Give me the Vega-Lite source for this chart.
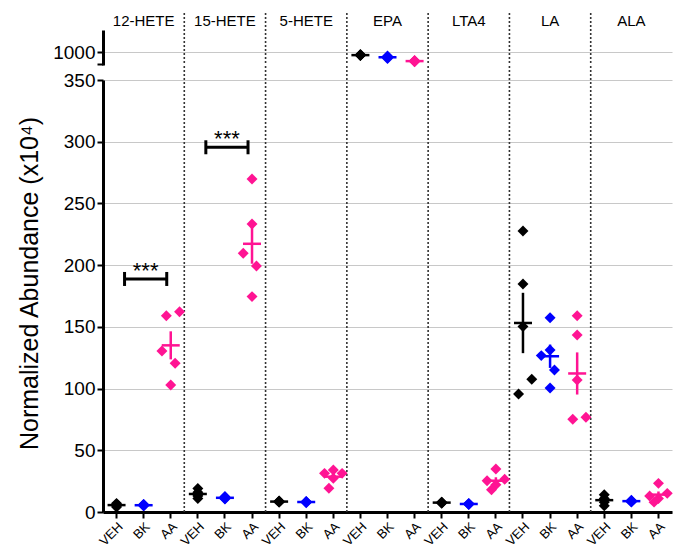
{
  "$schema": "https://vega.github.io/schema/vega-lite/v6.json",
  "padding": {"left": 17, "top": 12, "right": 0, "bottom": 0},
  "spacing": 15,
  "bounds": "flush",
  "config": {
    "font": "Liberation Sans",
    "view": {"stroke": null},
    "axis": {"domainColor": "#000", "domainWidth": 3, "tickColor": "#000", "tickWidth": 2, "tickSize": 6, "labelColor": "#000", "labelFont": "Liberation Sans", "titleFont": "Liberation Sans", "titleColor": "#000", "gridColor": "#c8c8c8", "gridWidth": 1.2},
    "axisBottom": {"labelAngle": -45, "labelFontSize": 13, "labelPadding": 2, "labelOverlap": false}
  },
  "datasets": {
    "pts": [
      {"lipid": "12-HETE", "grp": "VEH", "key": "12-HETE|VEH", "v": 7, "lane": 0},
      {"lipid": "12-HETE", "grp": "VEH", "key": "12-HETE|VEH", "v": 6, "lane": 0},
      {"lipid": "12-HETE", "grp": "VEH", "key": "12-HETE|VEH", "v": 5, "lane": 0},
      {"lipid": "12-HETE", "grp": "VEH", "key": "12-HETE|VEH", "v": 4, "lane": 0},
      {"lipid": "12-HETE", "grp": "VEH", "key": "12-HETE|VEH", "v": 6, "lane": 0},
      {"lipid": "12-HETE", "grp": "BK", "key": "12-HETE|BK", "v": 6, "lane": 0},
      {"lipid": "12-HETE", "grp": "BK", "key": "12-HETE|BK", "v": 5, "lane": 0},
      {"lipid": "12-HETE", "grp": "BK", "key": "12-HETE|BK", "v": 5.5, "lane": 0},
      {"lipid": "12-HETE", "grp": "BK", "key": "12-HETE|BK", "v": 6, "lane": 0},
      {"lipid": "12-HETE", "grp": "BK", "key": "12-HETE|BK", "v": 5, "lane": 0},
      {"lipid": "12-HETE", "grp": "AA", "key": "12-HETE|AA", "v": 159, "lane": -1},
      {"lipid": "12-HETE", "grp": "AA", "key": "12-HETE|AA", "v": 162.3, "lane": 2},
      {"lipid": "12-HETE", "grp": "AA", "key": "12-HETE|AA", "v": 130.4, "lane": -2},
      {"lipid": "12-HETE", "grp": "AA", "key": "12-HETE|AA", "v": 120.5, "lane": 1},
      {"lipid": "12-HETE", "grp": "AA", "key": "12-HETE|AA", "v": 102.9, "lane": 0},
      {"lipid": "15-HETE", "grp": "VEH", "key": "15-HETE|VEH", "v": 19, "lane": 0},
      {"lipid": "15-HETE", "grp": "VEH", "key": "15-HETE|VEH", "v": 16, "lane": 0},
      {"lipid": "15-HETE", "grp": "VEH", "key": "15-HETE|VEH", "v": 14, "lane": 0},
      {"lipid": "15-HETE", "grp": "VEH", "key": "15-HETE|VEH", "v": 11, "lane": 0},
      {"lipid": "15-HETE", "grp": "VEH", "key": "15-HETE|VEH", "v": 13, "lane": 0},
      {"lipid": "15-HETE", "grp": "BK", "key": "15-HETE|BK", "v": 12, "lane": 0},
      {"lipid": "15-HETE", "grp": "BK", "key": "15-HETE|BK", "v": 11, "lane": 0},
      {"lipid": "15-HETE", "grp": "BK", "key": "15-HETE|BK", "v": 12.5, "lane": 0},
      {"lipid": "15-HETE", "grp": "BK", "key": "15-HETE|BK", "v": 10.5, "lane": 0},
      {"lipid": "15-HETE", "grp": "BK", "key": "15-HETE|BK", "v": 11.5, "lane": 0},
      {"lipid": "15-HETE", "grp": "AA", "key": "15-HETE|AA", "v": 269.8, "lane": 0},
      {"lipid": "15-HETE", "grp": "AA", "key": "15-HETE|AA", "v": 233.3, "lane": 0},
      {"lipid": "15-HETE", "grp": "AA", "key": "15-HETE|AA", "v": 209.6, "lane": -2},
      {"lipid": "15-HETE", "grp": "AA", "key": "15-HETE|AA", "v": 199.3, "lane": 1},
      {"lipid": "15-HETE", "grp": "AA", "key": "15-HETE|AA", "v": 174.5, "lane": 0},
      {"lipid": "5-HETE", "grp": "VEH", "key": "5-HETE|VEH", "v": 9, "lane": 0},
      {"lipid": "5-HETE", "grp": "VEH", "key": "5-HETE|VEH", "v": 8.5, "lane": 0},
      {"lipid": "5-HETE", "grp": "VEH", "key": "5-HETE|VEH", "v": 8, "lane": 0},
      {"lipid": "5-HETE", "grp": "VEH", "key": "5-HETE|VEH", "v": 8.7, "lane": 0},
      {"lipid": "5-HETE", "grp": "VEH", "key": "5-HETE|VEH", "v": 8, "lane": 0},
      {"lipid": "5-HETE", "grp": "BK", "key": "5-HETE|BK", "v": 8.5, "lane": 0},
      {"lipid": "5-HETE", "grp": "BK", "key": "5-HETE|BK", "v": 8, "lane": 0},
      {"lipid": "5-HETE", "grp": "BK", "key": "5-HETE|BK", "v": 7.5, "lane": 0},
      {"lipid": "5-HETE", "grp": "BK", "key": "5-HETE|BK", "v": 8.2, "lane": 0},
      {"lipid": "5-HETE", "grp": "BK", "key": "5-HETE|BK", "v": 8.3, "lane": 0},
      {"lipid": "5-HETE", "grp": "AA", "key": "5-HETE|AA", "v": 31.3, "lane": -2},
      {"lipid": "5-HETE", "grp": "AA", "key": "5-HETE|AA", "v": 34, "lane": 0},
      {"lipid": "5-HETE", "grp": "AA", "key": "5-HETE|AA", "v": 31.3, "lane": 2},
      {"lipid": "5-HETE", "grp": "AA", "key": "5-HETE|AA", "v": 27.3, "lane": 0},
      {"lipid": "5-HETE", "grp": "AA", "key": "5-HETE|AA", "v": 19.2, "lane": -1},
      {"lipid": "EPA", "grp": "VEH", "key": "EPA|VEH", "v": 992, "lane": 0},
      {"lipid": "EPA", "grp": "VEH", "key": "EPA|VEH", "v": 990, "lane": 0},
      {"lipid": "EPA", "grp": "VEH", "key": "EPA|VEH", "v": 989, "lane": 0},
      {"lipid": "EPA", "grp": "VEH", "key": "EPA|VEH", "v": 991, "lane": 0},
      {"lipid": "EPA", "grp": "VEH", "key": "EPA|VEH", "v": 990, "lane": 0},
      {"lipid": "EPA", "grp": "BK", "key": "EPA|BK", "v": 988, "lane": 0},
      {"lipid": "EPA", "grp": "BK", "key": "EPA|BK", "v": 982, "lane": 0},
      {"lipid": "EPA", "grp": "BK", "key": "EPA|BK", "v": 984, "lane": 0},
      {"lipid": "EPA", "grp": "BK", "key": "EPA|BK", "v": 980, "lane": 0},
      {"lipid": "EPA", "grp": "BK", "key": "EPA|BK", "v": 985, "lane": 0},
      {"lipid": "EPA", "grp": "AA", "key": "EPA|AA", "v": 973, "lane": 0},
      {"lipid": "EPA", "grp": "AA", "key": "EPA|AA", "v": 971, "lane": 0},
      {"lipid": "EPA", "grp": "AA", "key": "EPA|AA", "v": 972, "lane": 0},
      {"lipid": "EPA", "grp": "AA", "key": "EPA|AA", "v": 974, "lane": 0},
      {"lipid": "EPA", "grp": "AA", "key": "EPA|AA", "v": 970, "lane": 0},
      {"lipid": "LTA4", "grp": "VEH", "key": "LTA4|VEH", "v": 8, "lane": 0},
      {"lipid": "LTA4", "grp": "VEH", "key": "LTA4|VEH", "v": 7.5, "lane": 0},
      {"lipid": "LTA4", "grp": "VEH", "key": "LTA4|VEH", "v": 7, "lane": 0},
      {"lipid": "LTA4", "grp": "VEH", "key": "LTA4|VEH", "v": 7.5, "lane": 0},
      {"lipid": "LTA4", "grp": "VEH", "key": "LTA4|VEH", "v": 8, "lane": 0},
      {"lipid": "LTA4", "grp": "BK", "key": "LTA4|BK", "v": 6.5, "lane": 0},
      {"lipid": "LTA4", "grp": "BK", "key": "LTA4|BK", "v": 6, "lane": 0},
      {"lipid": "LTA4", "grp": "BK", "key": "LTA4|BK", "v": 7, "lane": 0},
      {"lipid": "LTA4", "grp": "BK", "key": "LTA4|BK", "v": 6.5, "lane": 0},
      {"lipid": "LTA4", "grp": "BK", "key": "LTA4|BK", "v": 6.5, "lane": 0},
      {"lipid": "LTA4", "grp": "AA", "key": "LTA4|AA", "v": 34.8, "lane": 0},
      {"lipid": "LTA4", "grp": "AA", "key": "LTA4|AA", "v": 25.4, "lane": -2},
      {"lipid": "LTA4", "grp": "AA", "key": "LTA4|AA", "v": 26.5, "lane": 2},
      {"lipid": "LTA4", "grp": "AA", "key": "LTA4|AA", "v": 22, "lane": 0},
      {"lipid": "LTA4", "grp": "AA", "key": "LTA4|AA", "v": 18, "lane": -1},
      {"lipid": "LA", "grp": "VEH", "key": "LA|VEH", "v": 227.7, "lane": 0},
      {"lipid": "LA", "grp": "VEH", "key": "LA|VEH", "v": 184.7, "lane": 0},
      {"lipid": "LA", "grp": "VEH", "key": "LA|VEH", "v": 150.2, "lane": 0},
      {"lipid": "LA", "grp": "VEH", "key": "LA|VEH", "v": 107.5, "lane": 2},
      {"lipid": "LA", "grp": "VEH", "key": "LA|VEH", "v": 95.6, "lane": -1},
      {"lipid": "LA", "grp": "BK", "key": "LA|BK", "v": 157.4, "lane": 0},
      {"lipid": "LA", "grp": "BK", "key": "LA|BK", "v": 131.3, "lane": 0},
      {"lipid": "LA", "grp": "BK", "key": "LA|BK", "v": 126.7, "lane": -2},
      {"lipid": "LA", "grp": "BK", "key": "LA|BK", "v": 115, "lane": 1},
      {"lipid": "LA", "grp": "BK", "key": "LA|BK", "v": 100.5, "lane": 0},
      {"lipid": "LA", "grp": "AA", "key": "LA|AA", "v": 159, "lane": 0},
      {"lipid": "LA", "grp": "AA", "key": "LA|AA", "v": 143.4, "lane": 0},
      {"lipid": "LA", "grp": "AA", "key": "LA|AA", "v": 107, "lane": 0},
      {"lipid": "LA", "grp": "AA", "key": "LA|AA", "v": 75.1, "lane": -1},
      {"lipid": "LA", "grp": "AA", "key": "LA|AA", "v": 76.7, "lane": 2},
      {"lipid": "ALA", "grp": "VEH", "key": "ALA|VEH", "v": 14, "lane": 0},
      {"lipid": "ALA", "grp": "VEH", "key": "ALA|VEH", "v": 11, "lane": 0},
      {"lipid": "ALA", "grp": "VEH", "key": "ALA|VEH", "v": 8, "lane": 0},
      {"lipid": "ALA", "grp": "VEH", "key": "ALA|VEH", "v": 5, "lane": 0},
      {"lipid": "ALA", "grp": "VEH", "key": "ALA|VEH", "v": 10, "lane": 0},
      {"lipid": "ALA", "grp": "BK", "key": "ALA|BK", "v": 9, "lane": 0},
      {"lipid": "ALA", "grp": "BK", "key": "ALA|BK", "v": 8.5, "lane": 0},
      {"lipid": "ALA", "grp": "BK", "key": "ALA|BK", "v": 9.5, "lane": 0},
      {"lipid": "ALA", "grp": "BK", "key": "ALA|BK", "v": 8, "lane": 0},
      {"lipid": "ALA", "grp": "BK", "key": "ALA|BK", "v": 9, "lane": 0},
      {"lipid": "ALA", "grp": "AA", "key": "ALA|AA", "v": 23.2, "lane": 0},
      {"lipid": "ALA", "grp": "AA", "key": "ALA|AA", "v": 13, "lane": -2},
      {"lipid": "ALA", "grp": "AA", "key": "ALA|AA", "v": 15.1, "lane": 2},
      {"lipid": "ALA", "grp": "AA", "key": "ALA|AA", "v": 11, "lane": 0},
      {"lipid": "ALA", "grp": "AA", "key": "ALA|AA", "v": 8, "lane": -1}
    ],
    "seps": [
      {"key": "12-HETE|AA"}, {"key": "15-HETE|AA"}, {"key": "5-HETE|AA"},
      {"key": "EPA|AA"}, {"key": "LTA4|AA"}, {"key": "LA|AA"}
    ],
    "sig": [
      {"from": "12-HETE|VEH", "mid": "12-HETE|BK", "to": "12-HETE|AA", "y": 188.8, "label": "***"},
      {"from": "15-HETE|VEH", "mid": "15-HETE|BK", "to": "15-HETE|AA", "y": 295.5, "label": "***"}
    ]
  },
  "vconcat": [
    {
      "width": 569,
      "height": 35,
      "layer": [
        {
          "data": {"name": "seps"},
          "mark": {"type": "rule", "strokeDash": [2, 2], "color": "#333", "strokeWidth": 1.6},
          "encoding": {
            "x": {"field": "key", "type": "nominal", "bandPosition": 1,
              "scale": {"domain": ["12-HETE|VEH","12-HETE|BK","12-HETE|AA","15-HETE|VEH","15-HETE|BK","15-HETE|AA","5-HETE|VEH","5-HETE|BK","5-HETE|AA","EPA|VEH","EPA|BK","EPA|AA","LTA4|VEH","LTA4|BK","LTA4|AA","LA|VEH","LA|BK","LA|AA","ALA|VEH","ALA|BK","ALA|AA"], "paddingInner": 0, "paddingOuter": 0},
              "axis": {"orient": "top", "title": null, "ticks": false, "domain": false, "labelAngle": 0, "labelFontSize": 15, "labelPadding": 2, "labelOverlap": false,
                "labelExpr": "split(datum.value,'|')[1] == 'BK' ? split(datum.value,'|')[0] : ''"}},
            "y": {"datum": 1120, "type": "quantitative",
              "scale": {"domain": [960, 1067.7], "nice": false, "zero": false},
              "axis": {"values": [962, 1000], "format": "d", "labelExpr": "datum.value == 1000 ? '1000' : ''", "title": null, "grid": true,
                "gridOpacity": {"condition": {"test": "datum.value < 990", "value": 0}, "value": 1},
                "labelFontSize": 19, "labelPadding": 2}},
            "y2": {"datum": 960}
          }
        },
        {
          "data": {"name": "pts"},
          "transform": [{"filter": "datum.lipid == 'EPA'"}],
          "mark": {"type": "point", "shape": "diamond", "filled": true, "size": 120, "opacity": 1},
          "encoding": {
            "x": {"field": "key", "type": "nominal"},
            "xOffset": {"field": "lane", "type": "ordinal", "scale": {"type": "point", "domain": [-3, -2, -1, 0, 1, 2, 3], "padding": 0.08}},
            "y": {"field": "v", "type": "quantitative", "title": null},
            "color": {"field": "grp", "type": "nominal", "scale": {"domain": ["VEH", "BK", "AA"], "range": ["#000000", "#0000FF", "#FF1493"]}, "legend": null}
          }
        },
        {
          "data": {"name": "pts"},
          "transform": [{"filter": "datum.lipid == 'EPA'"}],
          "mark": {"type": "errorbar", "extent": "stderr", "thickness": 2.5},
          "encoding": {
            "x": {"field": "key", "type": "nominal"},
            "y": {"field": "v", "type": "quantitative", "title": null},
            "color": {"field": "grp", "type": "nominal", "legend": null}
          }
        },
        {
          "data": {"name": "pts"},
          "transform": [{"filter": "datum.lipid == 'EPA'"}],
          "mark": {"type": "tick", "size": 18, "thickness": 2.5, "opacity": 1},
          "encoding": {
            "x": {"field": "key", "type": "nominal"},
            "y": {"aggregate": "mean", "field": "v", "type": "quantitative", "title": null},
            "color": {"field": "grp", "type": "nominal", "legend": null}
          }
        }
      ]
    },
    {
      "width": 569,
      "height": 432,
      "layer": [
        {
          "data": {"name": "seps"},
          "mark": {"type": "rule", "strokeDash": [2, 2], "color": "#333", "strokeWidth": 1.6},
          "encoding": {
            "x": {"field": "key", "type": "nominal", "bandPosition": 1,
              "scale": {"domain": ["12-HETE|VEH","12-HETE|BK","12-HETE|AA","15-HETE|VEH","15-HETE|BK","15-HETE|AA","5-HETE|VEH","5-HETE|BK","5-HETE|AA","EPA|VEH","EPA|BK","EPA|AA","LTA4|VEH","LTA4|BK","LTA4|AA","LA|VEH","LA|BK","LA|AA","ALA|VEH","ALA|BK","ALA|AA"], "paddingInner": 0, "paddingOuter": 0},
              "axis": {"title": null, "labelAngle": -45, "labelFontSize": 13, "labelPadding": 2, "labelOverlap": false,
                "labelExpr": "split(datum.value,'|')[1]"}},
            "y": {"datum": 0, "type": "quantitative",
              "scale": {"domain": [0, 350], "nice": false},
              "title": "Normalized Abundance (x10⁴)",
              "axis": {"values": [0, 50, 100, 150, 200, 250, 300, 350], "grid": true, "labelFontSize": 19, "labelPadding": 2,
                "titleFontSize": 25, "titleFontWeight": "normal", "titlePadding": 21, "titleY": 203}},
            "y2": {"datum": 362.2}
          }
        },
        {
          "data": {"name": "pts"},
          "transform": [{"filter": "datum.lipid != 'EPA'"}],
          "mark": {"type": "point", "shape": "diamond", "filled": true, "size": 120, "opacity": 1},
          "encoding": {
            "x": {"field": "key", "type": "nominal"},
            "xOffset": {"field": "lane", "type": "ordinal", "scale": {"type": "point", "domain": [-3, -2, -1, 0, 1, 2, 3], "padding": 0.08}},
            "y": {"field": "v", "type": "quantitative", "title": "Normalized Abundance (x10⁴)"},
            "color": {"field": "grp", "type": "nominal", "scale": {"domain": ["VEH", "BK", "AA"], "range": ["#000000", "#0000FF", "#FF1493"]}, "legend": null}
          }
        },
        {
          "data": {"name": "pts"},
          "transform": [{"filter": "datum.lipid != 'EPA'"}],
          "mark": {"type": "errorbar", "extent": "stderr", "thickness": 2.5},
          "encoding": {
            "x": {"field": "key", "type": "nominal"},
            "y": {"field": "v", "type": "quantitative", "title": "Normalized Abundance (x10⁴)"},
            "color": {"field": "grp", "type": "nominal", "legend": null}
          }
        },
        {
          "data": {"name": "pts"},
          "transform": [{"filter": "datum.lipid != 'EPA'"}],
          "mark": {"type": "tick", "size": 18, "thickness": 2.5, "opacity": 1},
          "encoding": {
            "x": {"field": "key", "type": "nominal"},
            "y": {"aggregate": "mean", "field": "v", "type": "quantitative", "title": "Normalized Abundance (x10⁴)"},
            "color": {"field": "grp", "type": "nominal", "legend": null}
          }
        },
        {
          "data": {"name": "sig"},
          "mark": {"type": "rule", "strokeWidth": 3, "color": "#000", "xOffset": 8, "x2Offset": -4},
          "encoding": {
            "x": {"field": "from", "type": "nominal"},
            "x2": {"field": "to"},
            "y": {"field": "y", "type": "quantitative", "title": "Normalized Abundance (x10⁴)"}
          }
        },
        {
          "data": {"name": "sig"},
          "mark": {"type": "rule", "strokeWidth": 3, "color": "#000", "xOffset": 8, "yOffset": -7, "y2Offset": 7},
          "encoding": {
            "x": {"field": "from", "type": "nominal"},
            "y": {"field": "y", "type": "quantitative", "title": "Normalized Abundance (x10⁴)"},
            "y2": {"field": "y"}
          }
        },
        {
          "data": {"name": "sig"},
          "mark": {"type": "rule", "strokeWidth": 3, "color": "#000", "xOffset": -4, "yOffset": -7, "y2Offset": 7},
          "encoding": {
            "x": {"field": "to", "type": "nominal"},
            "y": {"field": "y", "type": "quantitative", "title": "Normalized Abundance (x10⁴)"},
            "y2": {"field": "y"}
          }
        },
        {
          "data": {"name": "sig"},
          "mark": {"type": "text", "fontSize": 22, "color": "#000", "baseline": "alphabetic", "dx": 2, "dy": -1},
          "encoding": {
            "x": {"field": "mid", "type": "nominal"},
            "y": {"field": "y", "type": "quantitative", "title": "Normalized Abundance (x10⁴)"},
            "text": {"field": "label"}
          }
        }
      ]
    }
  ]
}
